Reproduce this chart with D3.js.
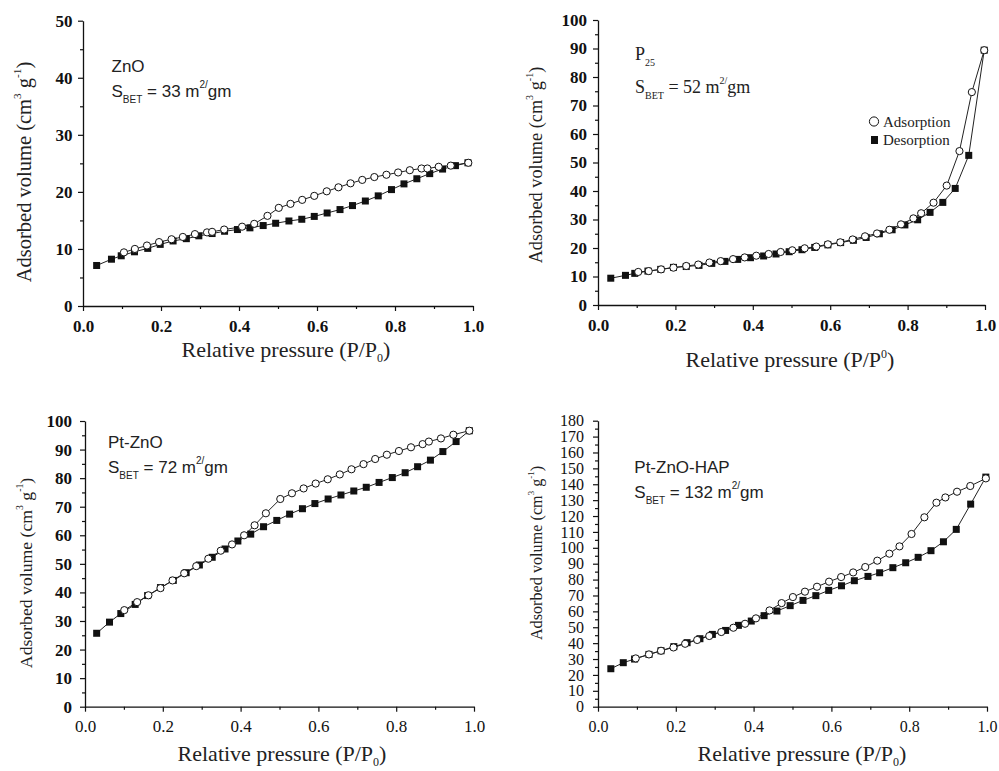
<!DOCTYPE html>
<html>
<head>
<meta charset="utf-8">
<script src="https://cdn.jsdelivr.net/npm/d3@7/dist/d3.min.js"></script>
<style>
  body { margin: 0; background: #fff; }
  svg { display: block; }
  .serif { font-family: "Liberation Serif", Tinos, "Times New Roman", "DejaVu Serif", serif; }
  .sans { font-family: "Liberation Sans", Arimo, Arial, Helvetica, sans-serif; }
</style>
</head>
<body>
<svg id="fig" width="999" height="771"></svg>
<script>
// ---- N2 adsorption / desorption isotherms (relative pressure, adsorbed volume) ----

// ZnO
const znoAdsP = [0.105,0.133,0.164,0.195,0.227,0.256,0.287,0.318,0.331,0.362,0.408,0.439,0.473,0.502,0.532,0.562,0.593,0.625,0.655,0.686,0.716,0.747,0.778,0.808,0.838,0.868,0.883,0.912,0.943,0.988];
const znoAdsV = [9.4,10.0,10.6,11.2,11.7,12.1,12.6,12.9,13.0,13.4,13.9,14.4,15.8,17.2,17.9,18.6,19.3,20.1,20.8,21.5,22.1,22.6,23.0,23.4,23.8,24.1,24.1,24.4,24.6,25.1];
const znoDesP = [0.035,0.073,0.098,0.132,0.166,0.198,0.231,0.265,0.297,0.331,0.363,0.396,0.428,0.462,0.494,0.528,0.561,0.593,0.626,0.659,0.691,0.724,0.757,0.791,0.823,0.856,0.889,0.922,0.955,0.987];
const znoDesV = [7.1,8.2,8.8,9.5,10.1,10.8,11.4,11.8,12.3,12.7,13.1,13.4,13.7,14.1,14.5,14.9,15.2,15.7,16.3,16.9,17.6,18.4,19.3,20.4,21.4,22.3,23.2,24.0,24.6,25.1];

// P25
const p25AdsP = [0.104,0.131,0.163,0.195,0.228,0.259,0.288,0.317,0.349,0.379,0.409,0.441,0.472,0.502,0.534,0.564,0.594,0.626,0.658,0.690,0.721,0.753,0.783,0.815,0.835,0.867,0.901,0.934,0.966,0.998];
const p25AdsV = [11.6,11.9,12.5,13.1,13.7,14.2,14.9,15.4,16.1,16.7,17.3,17.9,18.6,19.2,19.9,20.5,21.3,22.0,23.0,24.1,25.1,26.4,28.3,30.4,32.2,35.9,41.9,54.0,74.7,89.4];
const p25DesP = [0.033,0.071,0.095,0.129,0.162,0.195,0.228,0.261,0.294,0.328,0.361,0.394,0.428,0.460,0.494,0.527,0.560,0.594,0.627,0.660,0.693,0.727,0.760,0.793,0.826,0.858,0.891,0.923,0.958,0.998];
const p25DesV = [9.4,10.4,11.1,11.9,12.5,13.2,13.5,13.9,14.6,15.3,16.0,16.6,17.2,17.9,18.7,19.4,20.2,21.1,21.9,22.7,23.7,25.0,26.4,28.1,29.9,32.5,36.0,40.9,52.5,89.4];

// Pt-ZnO
const ptznoAdsP = [0.101,0.134,0.163,0.194,0.225,0.255,0.286,0.317,0.349,0.378,0.409,0.436,0.465,0.502,0.532,0.562,0.593,0.624,0.655,0.685,0.716,0.746,0.776,0.807,0.838,0.868,0.884,0.915,0.947,0.988];
const ptznoAdsV = [33.8,36.6,39.0,41.5,44.2,46.7,49.2,51.8,54.6,56.8,60.0,63.5,67.7,72.7,74.7,76.4,78.1,79.6,81.3,83.1,84.9,86.7,88.2,89.5,90.8,91.9,92.8,93.9,95.2,96.6];
const ptznoDesP = [0.030,0.063,0.092,0.129,0.161,0.194,0.227,0.260,0.294,0.327,0.360,0.393,0.426,0.459,0.493,0.526,0.559,0.591,0.625,0.658,0.691,0.723,0.756,0.790,0.823,0.855,0.888,0.920,0.954,0.988];
const ptznoDesV = [25.7,29.6,32.6,35.8,38.9,41.7,44.2,46.9,49.6,52.3,55.2,58.0,60.4,63.0,65.2,67.4,69.3,71.1,72.7,74.1,75.5,76.8,78.5,80.2,81.9,84.0,86.3,89.3,92.8,96.6];

// Pt-ZnO-HAP
const hapAdsP = [0.097,0.131,0.162,0.194,0.224,0.255,0.286,0.317,0.348,0.378,0.406,0.441,0.472,0.501,0.532,0.563,0.594,0.625,0.656,0.687,0.718,0.749,0.775,0.806,0.839,0.870,0.893,0.923,0.957,0.997];
const hapAdsV = [30.4,32.9,35.2,37.3,39.6,42.0,44.5,47.0,49.7,52.2,55.6,60.6,65.2,69.0,72.4,75.5,78.7,81.6,84.5,87.9,91.9,96.3,100.9,108.7,119.2,128.4,131.7,135.3,138.9,143.7];
const hapDesP = [0.033,0.065,0.094,0.131,0.162,0.195,0.229,0.262,0.294,0.328,0.361,0.394,0.427,0.460,0.494,0.527,0.560,0.593,0.626,0.659,0.694,0.724,0.758,0.791,0.823,0.856,0.888,0.921,0.958,0.997];
const hapDesV = [23.9,27.7,30.0,32.9,35.2,37.8,40.3,42.8,45.5,48.0,51.2,53.9,57.3,60.2,63.6,66.9,69.9,73.2,76.1,79.3,82.0,84.3,87.5,90.6,94.0,98.2,103.8,111.6,127.5,144.5];

// Axis tick values
const xMajorTicks = [0, 0.2, 0.4, 0.6, 0.8, 1.0];
const xMinorTicks = [0.1, 0.3, 0.5, 0.7, 0.9];

const svg = d3.select('#fig');

const zip = (xs, ys) => xs.map((v, i) => [v, ys[i]]);

// Writes a run of text pieces; each piece may be lowered (sub) or raised (sup).
function richText(sel, parts, size, subSize, subShift, supShift) {
  let off = 0;
  parts.forEach(p => {
    let target = 0, fs = size;
    if (p.sub) { target = subShift; fs = subSize; }
    if (p.sup) { target = -supShift; fs = subSize; }
    sel.append('tspan')
      .attr('dy', target - off)
      .style('font-size', fs + 'px')
      .text(p.t);
    off = target;
  });
}

const panels = [
  {
    ads: zip(znoAdsP, znoAdsV), des: zip(znoDesP, znoDesV),
    x0: 83, x1: 473, y0: 306, yTop: 20.7, yMax: 50,
    xBold: true, yBold: true, tickFs: 17, yPad: 5.5, xPad: 9,
    yTitle: { cx: 25, cy: 172, fs: 20.5 },
    xTitle: { cx: 286, y: 357, sup: false },
    label: { x: 111.5, y1: 71.7, y2: 96.7, font: 'sans', fs: 17, name: [{t: 'ZnO'}], area: '33' }
  },
  {
    ads: zip(p25AdsP, p25AdsV), des: zip(p25DesP, p25DesV),
    x0: 598, x1: 985, y0: 305, yTop: 20, yMax: 100,
    xBold: true, yBold: true, tickFs: 17, yPad: 6, xPad: 9,
    yTitle: { cx: 537, cy: 165, fs: 18.3 },
    xTitle: { cx: 790, y: 367, sup: true },
    label: { x: 635, y1: 60, y2: 93.3, font: 'serif', fs: 18, name: [{t: 'P'}, {t: '25', sub: true}], area: '52' },
    legend: true
  },
  {
    ads: zip(ptznoAdsP, ptznoAdsV), des: zip(ptznoDesP, ptznoDesV),
    x0: 85, x1: 474, y0: 706.7, yTop: 421, yMax: 100,
    xBold: false, yBold: true, tickFs: 17, yPad: 8, xPad: 8.5,
    yTitle: { cx: 27, cy: 573, fs: 17.7 },
    xTitle: { cx: 282, y: 761, sup: false },
    label: { x: 108, y1: 448.3, y2: 472.7, font: 'sans', fs: 17, name: [{t: 'Pt-ZnO'}], area: '72' }
  },
  {
    ads: zip(hapAdsP, hapAdsV), des: zip(hapDesP, hapDesV),
    x0: 598, x1: 987, y0: 706.7, yTop: 420.7, yMax: 180,
    xBold: false, yBold: false, tickFs: 16, yPad: 9, xPad: 8.5,
    yTitle: { cx: 537, cy: 553, fs: 16.2 },
    xTitle: { cx: 802, y: 761, sup: false },
    label: { x: 634.3, y1: 473.3, y2: 498.3, font: 'sans', fs: 17, name: [{t: 'Pt-ZnO-HAP'}], area: '132' }
  }
];

panels.forEach(cfg => {
  const x = d3.scaleLinear().domain([0, 1]).range([cfg.x0, cfg.x1]);
  const y = d3.scaleLinear().domain([0, cfg.yMax]).range([cfg.y0, cfg.yTop]);
  const g = svg.append('g');

  // minor ticks
  const yMinor = d3.range(5, cfg.yMax, 10);
  g.append('g').attr('transform', `translate(0,${cfg.y0})`)
    .call(d3.axisBottom(x).tickValues(xMinorTicks).tickSize(3).tickSizeOuter(0).tickFormat(''))
    .call(s => s.select('.domain').remove())
    .call(s => s.selectAll('line').attr('stroke', '#111').attr('stroke-width', 1.2));
  g.append('g').attr('transform', `translate(${cfg.x0},0)`)
    .call(d3.axisLeft(y).tickValues(yMinor).tickSize(3).tickSizeOuter(0).tickFormat(''))
    .call(s => s.select('.domain').remove())
    .call(s => s.selectAll('line').attr('stroke', '#111').attr('stroke-width', 1.2));

  // major axes
  const xAxis = g.append('g').attr('transform', `translate(0,${cfg.y0})`)
    .call(d3.axisBottom(x).tickValues(xMajorTicks).tickSize(5).tickSizeOuter(0)
      .tickPadding(cfg.xPad).tickFormat(d3.format('.1f')));
  const yAxis = g.append('g').attr('transform', `translate(${cfg.x0},0)`)
    .call(d3.axisLeft(y).tickValues(d3.range(0, cfg.yMax + 1, 10)).tickSize(5).tickSizeOuter(0)
      .tickPadding(cfg.yPad).tickFormat(d3.format('d')));

  [[xAxis, cfg.xBold], [yAxis, cfg.yBold]].forEach(([ax, bold]) => {
    ax.attr('font-family', null).attr('font-size', null);
    ax.selectAll('text')
      .attr('class', 'serif')
      .attr('fill', '#111')
      .style('font-size', cfg.tickFs + 'px')
      .style('font-weight', bold ? 'bold' : 'normal');
    ax.selectAll('line').attr('stroke', '#111').attr('stroke-width', 1.2);
    ax.select('.domain').attr('stroke', '#111').attr('stroke-width', 1.3);
  });

  // isotherm lines
  const line = d3.line().x(d => x(d[0])).y(d => y(d[1]));
  g.append('path').datum(cfg.des).attr('d', line)
    .attr('fill', 'none').attr('stroke', '#222').attr('stroke-width', 1);
  g.append('path').datum(cfg.ads).attr('d', line)
    .attr('fill', 'none').attr('stroke', '#222').attr('stroke-width', 1);

  // desorption: filled squares
  g.selectAll('rect.des').data(cfg.des).join('rect')
    .attr('class', 'des')
    .attr('x', d => x(d[0]) - 3.5).attr('y', d => y(d[1]) - 3.5)
    .attr('width', 7).attr('height', 7)
    .attr('fill', '#111');
  // adsorption: open circles
  g.selectAll('circle.ads').data(cfg.ads).join('circle')
    .attr('class', 'ads')
    .attr('cx', d => x(d[0])).attr('cy', d => y(d[1]))
    .attr('r', 3.6)
    .attr('fill', '#fff').attr('stroke', '#111').attr('stroke-width', 1);

  // y-axis title
  const yt = cfg.yTitle;
  const ytx = yt.cx + 0.3 * yt.fs;
  const ytext = g.append('text')
    .attr('class', 'serif')
    .attr('transform', `translate(${ytx},${yt.cy}) rotate(-90)`)
    .attr('text-anchor', 'middle')
    .attr('fill', '#222');
  richText(ytext, [
    {t: 'Adsorbed volume (cm'}, {t: '3', sup: true}, {t: ' g'}, {t: '-1', sup: true}, {t: ')'}
  ], yt.fs, yt.fs * 0.55, 0, yt.fs * 0.5);

  // x-axis title
  const xt = cfg.xTitle;
  const xtext = g.append('text')
    .attr('class', 'serif')
    .attr('x', xt.cx).attr('y', xt.y)
    .attr('text-anchor', 'middle')
    .attr('fill', '#222');
  richText(xtext, [
    {t: 'Relative pressure (P/P'},
    xt.sup ? {t: '0', sup: true} : {t: '0', sub: true},
    {t: ')'}
  ], 22, 12, 5, 9);

  // sample label and BET surface area
  const lb = cfg.label;
  const n1 = g.append('text').attr('class', lb.font).attr('x', lb.x).attr('y', lb.y1)
    .attr('fill', '#222');
  richText(n1, lb.name, lb.fs, 10, 6, 8);
  const n2 = g.append('text').attr('class', lb.font).attr('x', lb.x).attr('y', lb.y2)
    .attr('fill', '#222');
  richText(n2, [
    {t: 'S'}, {t: 'BET', sub: true}, {t: ' = ' + lb.area + ' m'}, {t: '2/', sup: true}, {t: 'gm'}
  ], lb.fs, 10, 6, 9);

  if (cfg.legend) {
    const lg = g.append('g');
    lg.append('circle').attr('cx', 874).attr('cy', 121.5).attr('r', 4.6)
      .attr('fill', '#fff').attr('stroke', '#111').attr('stroke-width', 1);
    lg.append('rect').attr('x', 871).attr('y', 136).attr('width', 7).attr('height', 8)
      .attr('fill', '#111');
    lg.append('text').attr('class', 'serif').attr('x', 883).attr('y', 126.5)
      .style('font-size', '15px').attr('fill', '#222').text('Adsorption');
    lg.append('text').attr('class', 'serif').attr('x', 883).attr('y', 145)
      .style('font-size', '15px').attr('fill', '#222').text('Desorption');
  }
});
</script>
</body>
</html>
